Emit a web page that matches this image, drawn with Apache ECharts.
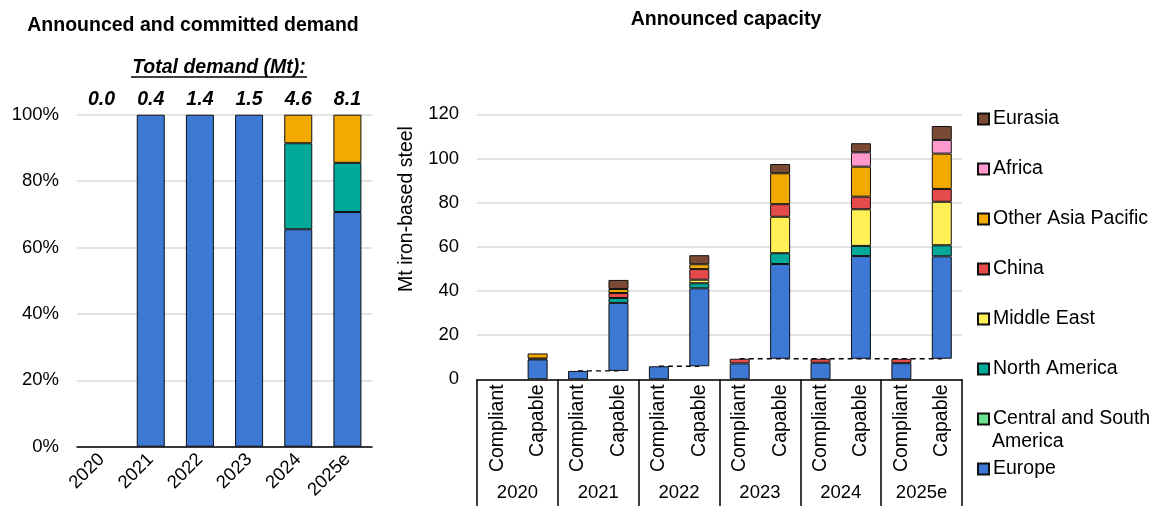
<!DOCTYPE html>
<html>
<head>
<meta charset="utf-8">
<script src="https://cdn.jsdelivr.net/npm/echarts@6/dist/echarts.min.js"></script>
<style>
  html, body { margin: 0; padding: 0; background: #fff; }
  #chart { width: 1152px; height: 506px; }
</style>
</head>
<body>
<div id="chart"></div>
<script>
// ---- Demand panel (shares of total, %) ----
const demandYears = ['2020', '2021', '2022', '2023', '2024', '2025e'];
const demandTotals = [0.0, 0.4, 1.4, 1.5, 4.6, 8.1];
const demandEurope = [0, 100, 100, 100, 65.5, 70.7];
const demandNorthAmerica = [0, 0, 0, 0, 25.9, 14.8];
const demandOtherAsia = [0, 0, 0, 0, 8.6, 14.5];

// ---- Capacity panel (Mt iron-based steel) ----
const capYears = ['2020', '2021', '2022', '2023', '2024', '2025e'];
const capKinds = ['Compliant', 'Capable'];

const regionNames = ['Europe', 'Central and South America', 'North America', 'Middle East',
  'China', 'Other Asia Pacific', 'Africa', 'Eurasia'];
const regionColors = ['#3d78d4', '#6be28f', '#00a99a', '#fff155', '#e54b4b', '#f2a900', '#ff99cc', '#7a4a34'];

// Compliant capacity by region
const europeCompliant = [0, 3.8, 5.9, 7.2, 7.5, 7.3];
const csAmericaCompliant = [0, 0, 0, 0, 0, 0];
const northAmericaCompliant = [0, 0, 0, 0, 0, 0];
const middleEastCompliant = [0, 0, 0, 0, 0, 0];
const chinaCompliant = [0, 0, 0, 2.1, 1.8, 2.0];
const otherAsiaCompliant = [0, 0, 0, 0, 0, 0];
const africaCompliant = [0, 0, 0, 0, 0, 0];
const eurasiaCompliant = [0, 0, 0, 0, 0, 0];

// Additional capable (not yet compliant) capacity by region
const europeCapable = [9.0, 30.8, 35.3, 42.9, 46.5, 46.4];
const csAmericaCapable = [0, 0, 0, 0, 0, 0];
const northAmericaCapable = [0, 2.2, 2.3, 4.9, 4.6, 5.0];
const middleEastCapable = [0, 0, 1.6, 16.5, 16.6, 19.7];
const chinaCapable = [0.4, 2.3, 4.8, 5.7, 5.7, 5.8];
const otherAsiaCapable = [2.3, 1.8, 2.2, 14.0, 13.6, 16.0];
const africaCapable = [0, 0, 0, 0, 6.5, 6.2];
const eurasiaCapable = [0, 4.1, 4.1, 4.2, 4.1, 6.3];

const compliantByRegion = [europeCompliant, csAmericaCompliant, northAmericaCompliant, middleEastCompliant,
  chinaCompliant, otherAsiaCompliant, africaCompliant, eurasiaCompliant];
const capableByRegion = [europeCapable, csAmericaCapable, northAmericaCapable, middleEastCapable,
  chinaCapable, otherAsiaCapable, africaCapable, eurasiaCapable];

const FONT = "'Liberation Sans', Arial, sans-serif";
const FS = 18.5;   // numeric tick labels
const FT = 19.5;   // word labels, legend, titles
const BORDER = { borderColor: '#111', borderWidth: 1 };
const nz = v => (v === 0 ? '-' : v);

// Compliant total per year: the capable bar floats on top of it
const compliantTotals = capYears.map((_, i) =>
  compliantByRegion.reduce((s, arr) => s + arr[i], 0));

// Interleave Compliant / Capable columns
const capCategories = [];
capYears.forEach(() => capKinds.forEach(k => capCategories.push(k)));
const baseData = [];
capYears.forEach((_, i) => { baseData.push(0); baseData.push(compliantTotals[i]); });

const capSeries = regionNames.map((name, r) => {
  const data = [];
  capYears.forEach((_, i) => {
    data.push(nz(compliantByRegion[r][i]));
    data.push(nz(capableByRegion[r][i]));
  });
  return {
    name, type: 'bar', stack: 'cap', xAxisIndex: 2, yAxisIndex: 1, barWidth: 20,
    itemStyle: Object.assign({ color: regionColors[r] }, BORDER),
    data, z: 3
  };
});

// Dashed connector segments at the compliant level (merged where levels match)
const connectors = [];
for (let i = 1; i < capYears.length; i++) {
  const lvl = compliantTotals[i];
  if (lvl <= 0) continue;
  const last = connectors[connectors.length - 1];
  if (last && Math.abs(last[2] - lvl) < 1e-9 && last[1] === 2 * i - 1) {
    last[1] = 2 * i + 1;
  } else {
    connectors.push([2 * i, 2 * i + 1, lvl]);
  }
}

const demandSeries = [
  ['Europe', demandEurope, 0],
  ['North America', demandNorthAmerica, 2],
  ['Other Asia Pacific', demandOtherAsia, 5]
].map(([name, arr, ci]) => ({
  name, type: 'bar', stack: 'demand', xAxisIndex: 0, yAxisIndex: 0, barWidth: 28,
  itemStyle: Object.assign({ color: regionColors[ci] }, BORDER),
  data: arr.map(nz)
}));

// Legend, one block per entry (top to bottom)
const legendOrder = ['Eurasia', 'Africa', 'Other Asia Pacific', 'China', 'Middle East',
  'North America', 'Central and South America', 'Europe'];
const legendCenters = [118, 168, 218, 268, 318, 368, 418, 468];
const legends = legendOrder.map((name, k) => ({
  data: [name], left: 977, top: legendCenters[k] - 9, orient: 'vertical', padding: 0,
  itemWidth: 11, itemHeight: 11, itemGap: 4, icon: 'rect', selectedMode: false,
  formatter: n => (n === 'Central and South America' ? 'Central and South' : n),
  textStyle: { fontSize: FT, color: '#000', fontFamily: FONT, padding: [0, 0, 0, -1] }
}));

const numLabel = { fontSize: FS, color: '#000', fontFamily: FONT };
const wordLabel = { fontSize: FT, color: '#000', fontFamily: FONT };

const option = {
  animation: false,
  backgroundColor: '#fff',
  textStyle: { fontFamily: FONT },
  legend: legends,
  grid: [
    { left: 77, top: 114.7, width: 295, height: 332 },
    { left: 477, top: 114.3, width: 485, height: 265 }
  ],
  xAxis: [
    { type: 'category', gridIndex: 0, data: demandYears, position: 'bottom',
      axisLine: { lineStyle: { color: '#000', width: 1.5 } }, axisTick: { show: false },
      axisLabel: Object.assign({ rotate: 45, margin: 10, interval: 0 }, numLabel) },
    { type: 'category', gridIndex: 0, data: demandTotals.map(v => v.toFixed(1)), position: 'top',
      axisLine: { show: false }, axisTick: { show: false },
      axisLabel: Object.assign({ margin: 5, interval: 0, fontWeight: 'bold', fontStyle: 'italic' }, wordLabel) },
    { type: 'category', gridIndex: 1, data: capCategories, position: 'bottom',
      axisLine: { lineStyle: { color: '#000', width: 1.5 } }, axisTick: { show: false },
      axisLabel: Object.assign({ rotate: 90, margin: 5, interval: 0 }, wordLabel) },
    { type: 'category', gridIndex: 1, data: capYears, position: 'bottom',
      axisLine: { show: false },
      axisTick: { show: true, interval: 0, length: 127, lineStyle: { color: '#000', width: 1.5 } },
      axisLabel: Object.assign({ margin: 104, interval: 0 }, numLabel) }
  ],
  yAxis: [
    { type: 'value', gridIndex: 0, min: 0, max: 100, interval: 20,
      axisLine: { show: false }, axisTick: { show: false },
      axisLabel: Object.assign({ formatter: '{value}%', margin: 18 }, numLabel),
      splitLine: { lineStyle: { color: '#d9d9d9', width: 1.5 } } },
    { type: 'value', gridIndex: 1, min: 0, max: 120, interval: 20,
      axisLine: { show: false }, axisTick: { show: false },
      axisLabel: Object.assign({ margin: 18 }, numLabel),
      splitLine: { lineStyle: { color: '#d9d9d9', width: 1.5 } } }
  ],
  series: [
    ...demandSeries,
    { name: 'base', type: 'bar', stack: 'cap', xAxisIndex: 2, yAxisIndex: 1, barWidth: 20,
      itemStyle: { color: 'rgba(0,0,0,0)', borderWidth: 0 }, silent: true, data: baseData, z: 3 },
    ...capSeries,
    { type: 'custom', xAxisIndex: 2, yAxisIndex: 1, z: 1, silent: true,
      data: connectors, encode: { x: [0, 1], y: 2 },
      renderItem: (params, api) => {
        const a = api.coord([api.value(0), api.value(2)]);
        const b = api.coord([api.value(1), api.value(2)]);
        return { type: 'line', shape: { x1: a[0], y1: a[1], x2: b[0], y2: b[1] },
          style: { stroke: '#000', lineWidth: 1.3, lineDash: [5, 4] } };
      } }
  ],
  graphic: [
    { type: 'text', x: 193, y: 26, style: { text: 'Announced and committed demand',
      font: 'bold ' + FT + 'px ' + FONT, fill: '#000', align: 'center', verticalAlign: 'middle' } },
    { type: 'text', x: 219, y: 68, style: { text: 'Total demand (Mt):',
      font: 'italic bold ' + FT + 'px ' + FONT, fill: '#000', align: 'center', verticalAlign: 'middle' } },
    { type: 'line', shape: { x1: 131, y1: 77, x2: 307, y2: 77 }, style: { stroke: '#000', lineWidth: 1.5 } },
    { type: 'text', x: 726, y: 20, style: { text: 'Announced capacity',
      font: 'bold ' + FT + 'px ' + FONT, fill: '#000', align: 'center', verticalAlign: 'middle' } },
    { type: 'text', x: 407, y: 209, rotation: Math.PI / 2, style: { text: 'Mt iron-based steel',
      font: FT + 'px ' + FONT, fill: '#000', align: 'center', verticalAlign: 'middle' } },
    { type: 'text', x: 992, y: 442, style: { text: 'America',
      font: FT + 'px ' + FONT, fill: '#000', align: 'left', verticalAlign: 'middle' } }
  ]
};

const chart = echarts.init(document.getElementById('chart'), null, { renderer: 'canvas' });
chart.setOption(option);
</script>
</body>
</html>
